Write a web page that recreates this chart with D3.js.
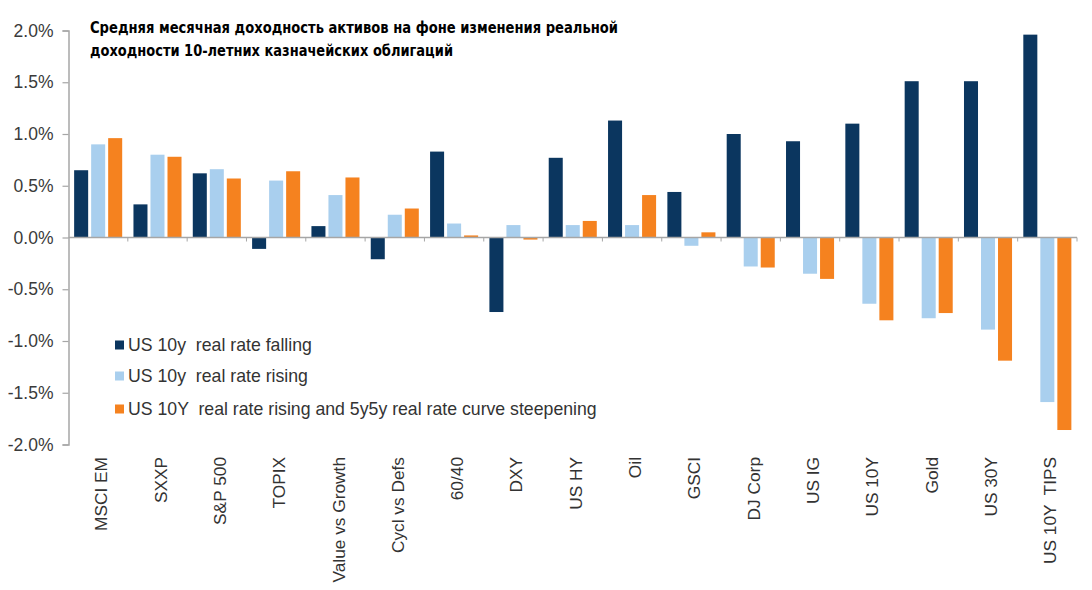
<!DOCTYPE html>
<html>
<head>
<meta charset="utf-8">
<script src="https://cdn.jsdelivr.net/npm/d3@7"></script>
<style>
html,body{margin:0;padding:0;background:#fff;}
svg{display:block;}
</style>
</head>
<body>
<svg id="chart" width="1092" height="590"></svg>
<script>
const titleLines = [
  "Средняя месячная доходность активов на фоне изменения реальной",
  "доходности 10-летних казначейских облигаций"
];
const categories = ["MSCI EM","SXXP","S&P 500","TOPIX","Value vs Growth","Cycl vs Defs","60/40","DXY","US HY","Oil","GSCI","DJ Corp","US IG","US 10Y","Gold","US 30Y","US 10Y  TIPS"];
const seriesNames = ["US 10y  real rate falling","US 10y  real rate rising","US 10Y  real rate rising and 5y5y real rate curve steepening"];
const falling  = [0.65,0.32,0.62,-0.11,0.11,-0.21,0.83,-0.72,0.77,1.13,0.44,1.00,0.93,1.10,1.51,1.51,1.96];
const rising   = [0.90,0.80,0.66,0.55,0.41,0.22,0.135,0.12,0.12,0.12,-0.08,-0.28,-0.35,-0.64,-0.78,-0.89,-1.59];
const steepen  = [0.96,0.78,0.57,0.64,0.58,0.28,0.02,-0.02,0.16,0.41,0.05,-0.29,-0.40,-0.80,-0.73,-1.19,-1.86];
const yTicks = [2.0,1.5,1.0,0.5,0.0,-0.5,-1.0,-1.5,-2.0];
const colors = ["#0b365f","#a9cfee","#f5821f"];

(function(){
const series = [falling, rising, steepen];
const svg = d3.select("#chart");
const pL = 68.5, pR = 1077, pT = 30.5, pB = 444.5;

const y = d3.scaleLinear().domain([-2, 2]).range([pB, pT]);
const x0 = d3.scaleBand().domain(categories).range([pL, pR]).paddingInner(0.19).paddingOuter(0.095);
const x1 = d3.scaleBand().domain([0,1,2]).range([0, x0.bandwidth()]).paddingInner(0.176).paddingOuter(0);
const xb = d3.scaleBand().domain(categories).range([pL, pR]).padding(0);

const g = svg.append("g");
categories.forEach((c, i) => {
  series.forEach((s, k) => {
    const v = s[i];
    g.append("rect")
      .attr("x", x0(c) + x1(k))
      .attr("width", x1.bandwidth())
      .attr("y", Math.min(y(v), y(0)))
      .attr("height", Math.abs(y(v) - y(0)))
      .attr("fill", colors[k]);
  });
});

const yAxis = d3.axisLeft(y).tickValues(yTicks).tickSize(6).tickPadding(9)
  .tickFormat(d => d.toFixed(1) + "%");
const ya = svg.append("g").attr("transform", `translate(${pL},0)`).call(yAxis);
ya.select(".domain").attr("stroke", "#a6a6a6").attr("stroke-width", 1.5);
ya.selectAll(".tick line").attr("stroke", "#a6a6a6").attr("stroke-width", 1.2);
ya.selectAll(".tick text").attr("fill", "#3a3a3a").style("font-family", "'Liberation Sans', Arial, sans-serif").style("font-size", "17.5px");

const xAxisLine = svg.append("g");
xAxisLine.append("line").attr("x1", pL).attr("x2", pR).attr("y1", y(0)).attr("y2", y(0))
  .attr("stroke", "#a6a6a6").attr("stroke-width", 1.3);
categories.forEach((c) => {
  const xx = xb(c) + xb.bandwidth();
  xAxisLine.append("line").attr("x1", xx).attr("x2", xx).attr("y1", y(0)).attr("y2", y(0) + 4)
    .attr("stroke", "#a6a6a6").attr("stroke-width", 1);
});

categories.forEach(c => {
  const cx = xb(c) + xb.bandwidth() / 2 + 3;
  svg.append("text")
    .attr("transform", `translate(${cx},457) rotate(-90)`)
    .attr("text-anchor", "end")
    .attr("dy", "0.35em")
    .attr("fill", "#333")
    .style("font-family", "'Liberation Sans', Arial, sans-serif")
    .style("font-size", "17.3px")
    .style("white-space", "pre")
    .text(c);
});

const legY = [345, 376, 409];
seriesNames.forEach((n, k) => {
  svg.append("rect").attr("x", 115).attr("y", legY[k] - 4.5).attr("width", 9).attr("height", 9).attr("fill", colors[k]);
  svg.append("text").attr("x", 128).attr("y", legY[k]).attr("dy", "0.35em")
    .attr("fill", "#333")
    .style("font-family", "'Liberation Sans', Arial, sans-serif")
    .style("font-size", "17.7px")
    .style("white-space", "pre")
    .text(n);
});

const tl = [[90, 33, 528], [90, 56, 363]];
titleLines.forEach((t, i) => {
  svg.append("text").attr("x", tl[i][0]).attr("y", tl[i][1])
    .attr("fill", "#000")
    .style("font-family", "'DejaVu Sans Condensed', 'DejaVu Sans', sans-serif")
    .style("font-stretch", "condensed")
    .style("font-weight", "bold")
    .style("font-size", "15px")
    .attr("textLength", tl[i][2])
    .attr("lengthAdjust", "spacingAndGlyphs")
    .text(t);
});
})();
</script>
</body>
</html>
